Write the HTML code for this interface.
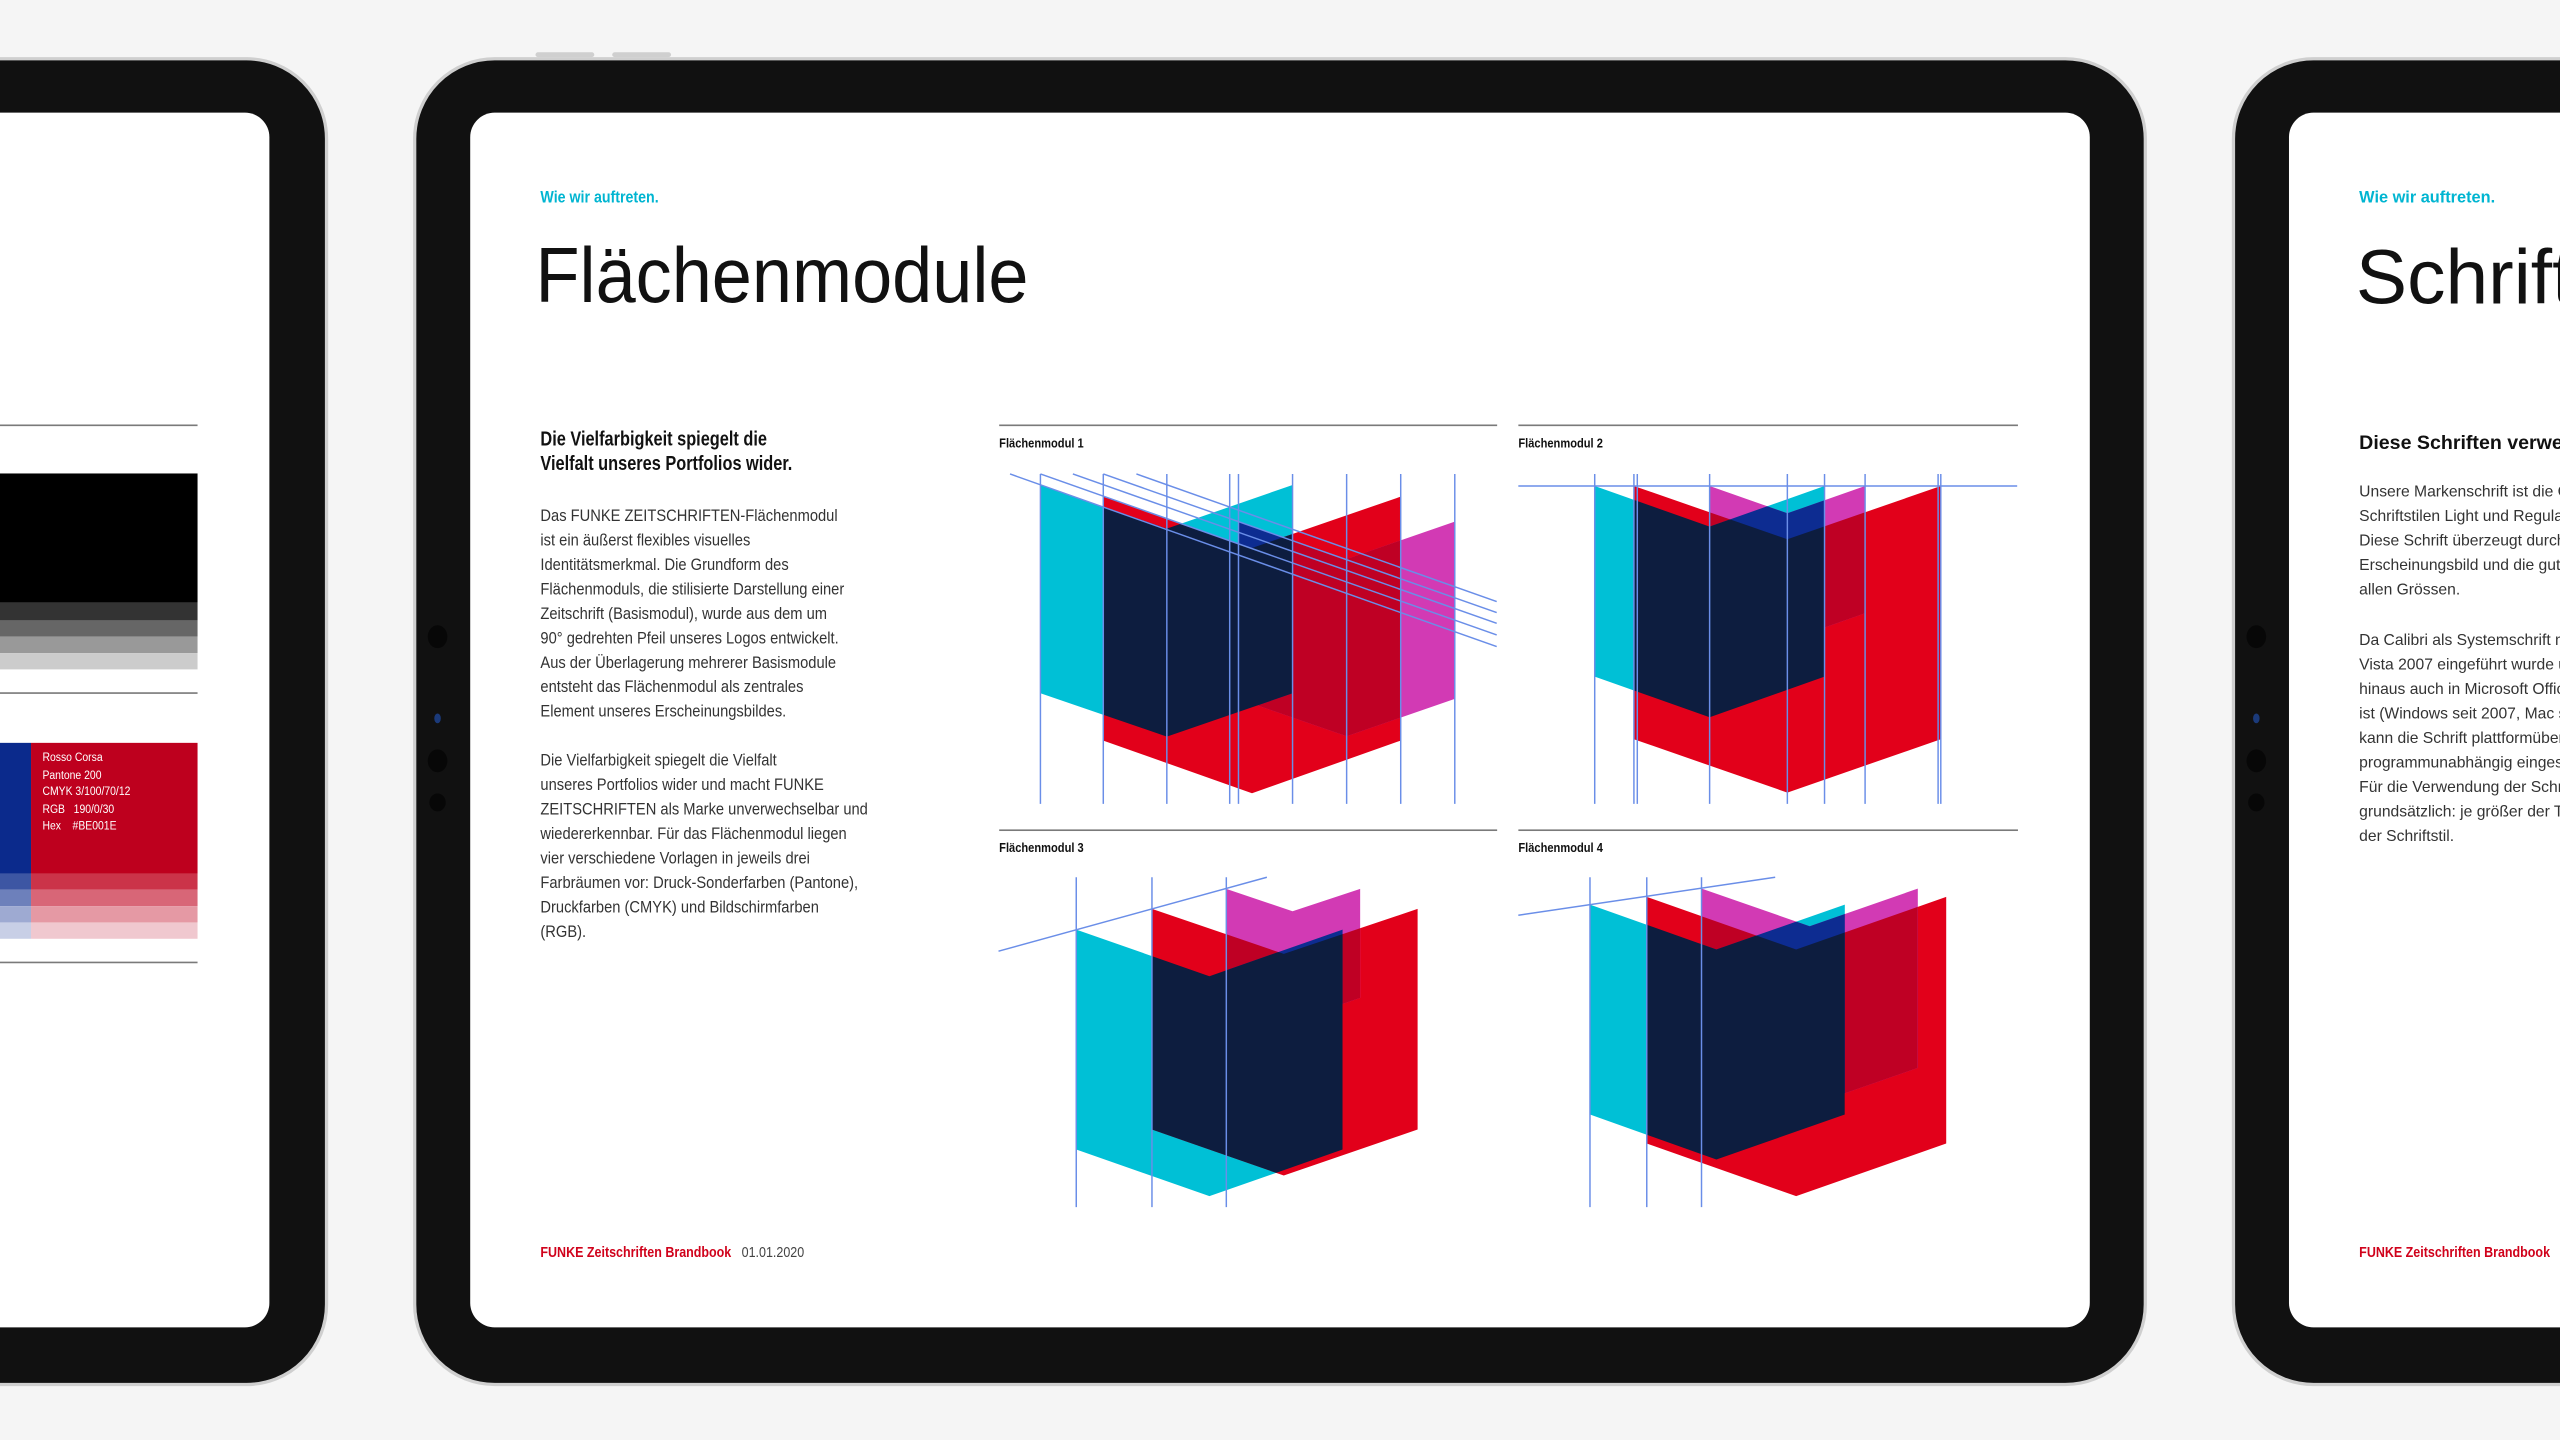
<!DOCTYPE html>
<html><head><meta charset="utf-8">
<style>
html,body{margin:0;padding:0;width:2560px;height:1440px;overflow:hidden;background:#f5f5f5;}
#w{position:absolute;left:0;top:0;width:1568px;height:882px;transform:scale(1.632653);transform-origin:0 0;font-family:"Liberation Sans",sans-serif;}
.tab{position:absolute;top:35px;width:1058px;height:810px;border-radius:50px;background:#111;border:2px solid #cfcfcf;}
.scr{position:absolute;top:69px;width:992px;height:744px;border-radius:15px;background:#fff;overflow:hidden;}
.a{position:absolute;white-space:nowrap;transform-origin:0 0;}
.k{color:#00b5d1;font-weight:bold;font-size:10px;line-height:12px;transform:scaleX(.87);}
.t{font-size:48px;line-height:48px;color:#111;transform:scaleX(.92);}
.h{font-weight:bold;font-size:12.5px;line-height:15px;color:#111;transform:scaleX(.8);}
.b{font-size:10px;line-height:15px;color:#333;transform:scaleX(.9);}
.f{font-size:9px;line-height:14px;font-weight:bold;color:#d0021b;transform:scaleX(.85);}
.f span{color:#444;font-weight:normal;}
.rule{position:absolute;height:1px;background:#7a7a7a;}
.lab{font-size:8px;font-weight:bold;line-height:10px;color:#111;transform:scaleX(.85);}
.dot{position:absolute;border-radius:50%;background:#070707;}
svg{position:absolute;}
</style></head><body><div id="w">

<!-- left tablet -->
<div class="tab" style="left:-861px"></div>
<div class="scr" style="left:-827px">
  <div class="rule" style="left:700px;width:248px;top:191px"></div>
  <div style="position:absolute;left:700px;top:221px;width:248px;height:79px;background:#000"></div>
  <div style="position:absolute;left:700px;top:300px;width:248px;height:11px;background:#333"></div>
  <div style="position:absolute;left:700px;top:311px;width:248px;height:10px;background:#666"></div>
  <div style="position:absolute;left:700px;top:321px;width:248px;height:10px;background:#999"></div>
  <div style="position:absolute;left:700px;top:331px;width:248px;height:10px;background:#ccc"></div>
  <div class="rule" style="left:700px;width:248px;top:355px"></div>
  <div style="position:absolute;left:700px;top:386px;width:146px;height:80px;background:#0b2a8c"></div>
  <div style="position:absolute;left:846px;top:386px;width:102px;height:80px;background:#be001e"></div>
  <div class="a" style="left:853px;top:390px;font-size:7.5px;line-height:10.5px;color:#fff;transform:scaleX(.85)">Rosso Corsa<br>Pantone 200<br>CMYK 3/100/70/12<br>RGB &nbsp;&nbsp;190/0/30<br>Hex &nbsp;&nbsp;&nbsp;#BE001E</div>
  <div style="position:absolute;left:700px;top:466px;width:146px;height:10px;background:#3d56a3"></div>
  <div style="position:absolute;left:846px;top:466px;width:102px;height:10px;background:#cb3349"></div>
  <div style="position:absolute;left:700px;top:476px;width:146px;height:10px;background:#6d80bb"></div>
  <div style="position:absolute;left:846px;top:476px;width:102px;height:10px;background:#d86677"></div>
  <div style="position:absolute;left:700px;top:486px;width:146px;height:10px;background:#9eaad2"></div>
  <div style="position:absolute;left:846px;top:486px;width:102px;height:10px;background:#e599a4"></div>
  <div style="position:absolute;left:700px;top:496px;width:146px;height:10px;background:#c8cfe6"></div>
  <div style="position:absolute;left:846px;top:496px;width:102px;height:10px;background:#f0c8cf"></div>
  <div class="rule" style="left:700px;width:248px;top:520px"></div>
</div>

<!-- center tablet -->
<div class="tab" style="left:253px"></div>
<div class="dot" style="left:262px;top:383px;width:12px;height:14px"></div>
<div class="dot" style="left:266px;top:437px;width:4px;height:6px;background:#1b3a7a"></div>
<div class="dot" style="left:262px;top:459px;width:12px;height:14px"></div>
<div class="dot" style="left:263px;top:486px;width:10px;height:11px"></div>
<div style="position:absolute;left:328px;top:32px;width:36px;height:3px;background:#cfcfcf;border-radius:2px"></div>
<div style="position:absolute;left:375px;top:32px;width:36px;height:3px;background:#cfcfcf;border-radius:2px"></div>
<div class="scr" style="left:288px">
  <div class="a k" style="left:43px;top:47px">Wie wir auftreten.</div>
  <div class="a t" style="left:40px;top:77px">Flächenmodule</div>
  <div class="a h" style="left:43px;top:193px">Die Vielfarbigkeit spiegelt die<br>Vielfalt unseres Portfolios wider.</div>
  <div class="a b" style="left:43px;top:240px">Das FUNKE ZEITSCHRIFTEN-Flächenmodul<br>ist ein äußerst flexibles visuelles<br>Identitätsmerkmal. Die Grundform des<br>Flächenmoduls, die stilisierte Darstellung einer<br>Zeitschrift (Basismodul), wurde aus dem um<br>90° gedrehten Pfeil unseres Logos entwickelt.<br>Aus der Überlagerung mehrerer Basismodule<br>entsteht das Flächenmodul als zentrales<br>Element unseres Erscheinungsbildes.<br><br>Die Vielfarbigkeit spiegelt die Vielfalt<br>unseres Portfolios wider und macht FUNKE<br>ZEITSCHRIFTEN als Marke unverwechselbar und<br>wiedererkennbar. Für das Flächenmodul liegen<br>vier verschiedene Vorlagen in jeweils drei<br>Farbräumen vor: Druck-Sonderfarben (Pantone),<br>Druckfarben (CMYK) und Bildschirmfarben<br>(RGB).</div>
  <div class="a f" style="left:43px;top:691px">FUNKE Zeitschriften Brandbook &nbsp;&nbsp;<span>01.01.2020</span></div>

  <div class="rule" style="left:324px;width:305px;top:191px"></div>
  <div class="rule" style="left:642px;width:306px;top:191px"></div>
  <div class="a lab" style="left:324px;top:198px">Flächenmodul 1</div>
  <div class="a lab" style="left:642px;top:198px">Flächenmodul 2</div>
  <div class="rule" style="left:324px;width:305px;top:439px"></div>
  <div class="rule" style="left:642px;width:306px;top:439px"></div>
  <div class="a lab" style="left:324px;top:446px">Flächenmodul 3</div>
  <div class="a lab" style="left:642px;top:446px">Flächenmodul 4</div>

  <svg style="left:312.2px;top:176px" width="649.2" height="257.2" viewBox="0 0 1568 1260" preserveAspectRatio="none">
    <defs>
      <clipPath id="c1"><polygon points="90,255 277,386 463,255 463,880 277,1010 90,880"/></clipPath>
      <clipPath id="m1"><polygon points="383,365 543,477 703,365 703,897 543,1009 383,897"/></clipPath>
      <clipPath id="c2"><polygon points="910,258 1080,380 1250,258 1250,830 1080,952 910,830"/></clipPath>
      <clipPath id="m2"><polygon points="1080,258 1195,340 1310,258 1310,640 1195,722 1080,640"/></clipPath>
    </defs>
    <polygon fill="#00c0d6" points="90,255 277,386 463,255 463,880 277,1010 90,880"/>
    <polygon fill="#e2001a" points="183,290 403,444 623,290 623,1022 403,1180 183,1022"/>
    <polygon fill="#d23ab4" points="383,365 543,477 703,365 703,897 543,1009 383,897"/>
    <polygon fill="#bf0024" clip-path="url(#m1)" points="183,290 403,444 623,290 623,1022 403,1180 183,1022"/>
    <polygon fill="#0d2c91" clip-path="url(#m1)" points="90,255 277,386 463,255 463,880 277,1010 90,880"/>
    <polygon fill="#0d1d3f" clip-path="url(#c1)" points="183,290 403,444 623,290 623,1022 403,1180 183,1022"/>

    <polygon fill="#00c0d6" points="910,258 1080,380 1250,258 1250,830 1080,952 910,830"/>
    <polygon fill="#e2001a" points="968,258 1195,418 1422,258 1422,1018 1195,1178 968,1018"/>
    <polygon fill="#d23ab4" points="1080,258 1195,340 1310,258 1310,640 1195,722 1080,640"/>
    <polygon fill="#bf0024" clip-path="url(#m2)" points="968,258 1195,418 1422,258 1422,1018 1195,1178 968,1018"/>
    <polygon fill="#0d2c91" clip-path="url(#m2)" points="910,258 1080,380 1250,258 1250,830 1080,952 910,830"/>
    <polygon fill="#0d1d3f" clip-path="url(#c2)" points="968,258 1195,418 1422,258 1422,1018 1195,1178 968,1018"/>

    <g stroke="#6a8ee8" stroke-width="0.9" fill="none">
      <line x1="45" y1="222" x2="765" y2="740" vector-effect="non-scaling-stroke"/>
      <line x1="90" y1="222" x2="765" y2="705" vector-effect="non-scaling-stroke"/>
      <line x1="138" y1="222" x2="765" y2="670" vector-effect="non-scaling-stroke"/>
      <line x1="183" y1="222" x2="765" y2="638" vector-effect="non-scaling-stroke"/>
      <line x1="232" y1="222" x2="765" y2="605" vector-effect="non-scaling-stroke"/>
      <path vector-effect="non-scaling-stroke" d="M90 222V1212M183 222V1212M277 222V1212M370 222V1212M383 222V1212M463 222V1212M543 222V1212M623 222V1212M703 222V1212"/>
      <path vector-effect="non-scaling-stroke" d="M797 258H1535M910 222V1212M968 222V1212M973 222V1212M1080 222V1212M1195 222V1212M1250 222V1212M1310 222V1212M1418 222V1212M1422 222V1212"/>
    </g>
  </svg>

  <svg style="left:312.2px;top:433.2px" width="649.2" height="257.2" viewBox="0 0 1568 1260" preserveAspectRatio="none">
    <defs>
      <clipPath id="c3"><polygon points="143,330 340,470 537,330 537,990 340,1130 143,990"/></clipPath>
      <clipPath id="m3"><polygon points="365,208 463,275 563,208 563,535 463,605 365,535"/></clipPath>
      <clipPath id="c4"><polygon points="903,255 1090,390 1280,255 1280,885 1090,1020 903,885"/></clipPath>
      <clipPath id="m4"><polygon points="1068,207 1228,320 1388,207 1388,745 1228,858 1068,745"/></clipPath>
    </defs>
    <polygon fill="#00c0d6" points="143,330 340,470 537,330 537,990 340,1130 143,990"/>
    <polygon fill="#e2001a" points="255,268 450,403 648,268 648,930 450,1068 255,930"/>
    <polygon fill="#d23ab4" points="365,208 463,275 563,208 563,535 463,605 365,535"/>
    <polygon fill="#bf0024" clip-path="url(#m3)" points="255,268 450,403 648,268 648,930 450,1068 255,930"/>
    <polygon fill="#0d2c91" clip-path="url(#m3)" points="143,330 340,470 537,330 537,990 340,1130 143,990"/>
    <polygon fill="#0d1d3f" clip-path="url(#c3)" points="255,268 450,403 648,268 648,930 450,1068 255,930"/>

    <polygon fill="#00c0d6" points="903,255 1090,390 1280,255 1280,885 1090,1020 903,885"/>
    <polygon fill="#e2001a" points="987,232 1208,390 1430,232 1430,972 1208,1130 987,972"/>
    <polygon fill="#d23ab4" points="1068,207 1228,320 1388,207 1388,745 1228,858 1068,745"/>
    <polygon fill="#bf0024" clip-path="url(#m4)" points="987,232 1208,390 1430,232 1430,972 1208,1130 987,972"/>
    <polygon fill="#0d2c91" clip-path="url(#m4)" points="903,255 1090,390 1280,255 1280,885 1090,1020 903,885"/>
    <polygon fill="#0d1d3f" clip-path="url(#c4)" points="987,232 1208,390 1430,232 1430,972 1208,1130 987,972"/>

    <g stroke="#6a8ee8" stroke-width="0.9" fill="none">
      <line x1="28" y1="395" x2="425" y2="173" vector-effect="non-scaling-stroke"/>
      <path vector-effect="non-scaling-stroke" d="M143 173V1163M255 173V1163M365 173V1163"/>
      <line x1="797" y1="287" x2="1177" y2="173" vector-effect="non-scaling-stroke"/>
      <path vector-effect="non-scaling-stroke" d="M903 173V1163M987 173V1163M1068 173V1163"/>
    </g>
  </svg>
</div>

<!-- right tablet -->
<div class="tab" style="left:1367px"></div>
<div class="dot" style="left:1376px;top:383px;width:12px;height:14px"></div>
<div class="dot" style="left:1380px;top:437px;width:4px;height:6px;background:#1b3a7a"></div>
<div class="dot" style="left:1376px;top:459px;width:12px;height:14px"></div>
<div class="dot" style="left:1377px;top:486px;width:10px;height:11px"></div>
<div class="scr" style="left:1402px">
  <div class="a" style="left:43px;top:47px;color:#00b5d1;font-weight:bold;font-size:10px;line-height:12px">Wie wir auftreten.</div>
  <div class="a" style="left:41px;top:77px;font-size:47px;line-height:48px;color:#111">Schriften</div>
  <div class="a" style="left:43px;top:195px;font-size:12px;line-height:15px;font-weight:bold;color:#111">Diese Schriften verwenden wir</div>
  <div class="a" style="left:43px;top:225px;font-size:9.6px;line-height:15.1px;color:#333">Unsere Markenschrift ist die Calibri in den<br>Schriftstilen Light und Regular.<br>Diese Schrift überzeugt durch ihr klares<br>Erscheinungsbild und die gute Lesbarkeit in<br>allen Grössen.<br><br>Da Calibri als Systemschrift mit Windows<br>Vista 2007 eingeführt wurde und darüber<br>hinaus auch in Microsoft Office enthalten<br>ist (Windows seit 2007, Mac seit 2008),<br>kann die Schrift plattformübergreifend und<br>programmunabhängig eingesetzt werden.<br>Für die Verwendung der Schriftstile gilt<br>grundsätzlich: je größer der Text, desto leichter<br>der Schriftstil.</div>
  <div class="a f" style="left:43px;top:691px">FUNKE Zeitschriften Brandbook</div>
</div>

</div></body></html>
